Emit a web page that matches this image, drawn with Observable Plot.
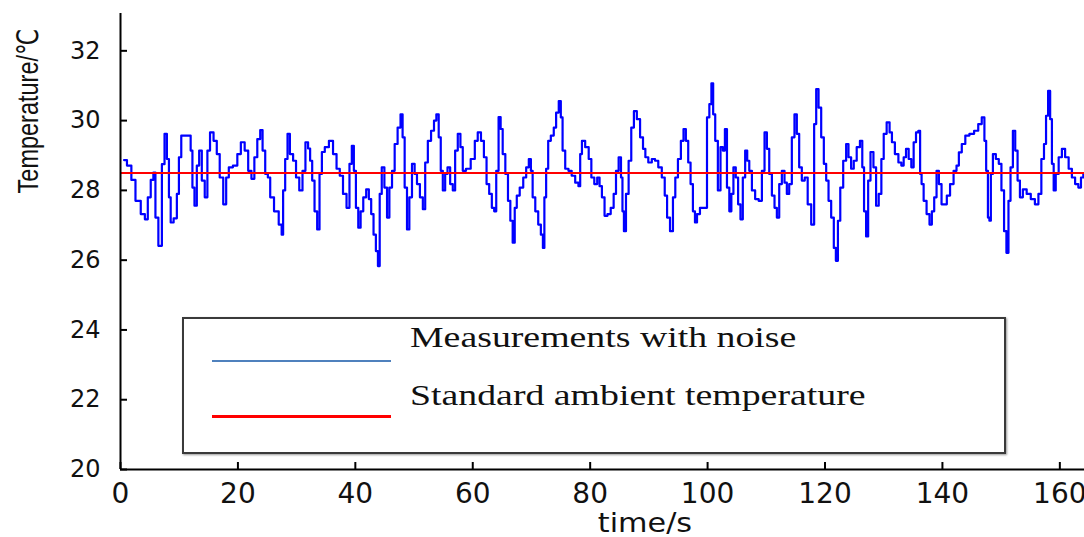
<!DOCTYPE html>
<html><head><meta charset="utf-8">
<script src="https://cdn.jsdelivr.net/npm/d3@7"></script>
<script src="https://cdn.jsdelivr.net/npm/@observablehq/plot@0.6"></script>
<style>
body{margin:0;background:#fff;}
#wrap{position:relative;width:1084px;height:537px;overflow:hidden;background:#fff;}
#wrap svg{position:absolute;left:0;top:0;}
.ytitle{position:absolute;left:29px;top:111px;transform:translate(-50%,-50%) rotate(-90deg) scale(1,1.26);white-space:nowrap;font-family:"Liberation Sans","DejaVu Sans",sans-serif;font-size:23.5px;line-height:1;color:#111;}
.xtitle{position:absolute;left:645px;top:509px;transform:translateX(-50%) scaleX(1.12);white-space:nowrap;font-family:"DejaVu Sans",sans-serif;font-size:27px;line-height:1;color:#111;}
.legend{position:absolute;left:182px;top:317px;width:820px;height:133px;border:2px solid #3a3a3a;box-shadow:1px 1px 2px #999;background:#fff;}
.lline{position:absolute;left:212px;width:179px;}
.ltext{position:absolute;left:410px;font-family:"Liberation Serif","Times New Roman",serif;font-size:30px;line-height:1;color:#111;white-space:nowrap;transform-origin:0 50%;transform:scaleX(1.26);}
</style></head><body><div id="wrap"></div>
<script>
const times = [
0.6,1.6,2.1,3.0,3.9,4.4,4.9,5.4,5.8,6.1,
6.8,7.3,7.7,8.1,8.4,8.7,9.4,9.8,10.1,10.6,
11.8,12.1,12.4,12.8,13.2,13.6,14.1,14.6,15.0,15.5,
16.2,16.6,17.2,17.8,18.2,18.7,19.6,20.2,20.8,21.5,
22.0,22.6,23.0,23.6,24.0,24.4,24.9,25.3,25.7,26.6,
27.3,27.6,27.8,28.3,28.6,29.1,29.7,30.1,30.8,31.2,
31.8,32.1,32.5,32.8,33.3,33.7,34.1,34.5,35.1,35.9,
36.5,37.1,37.6,38.2,38.8,39.2,39.6,39.9,40.3,40.7,
41.1,41.6,42.1,42.5,42.9,43.3,43.7,44.0,44.3,44.7,
45.2,45.6,46.0,46.5,46.9,47.5,47.9,48.2,48.6,49.0,
49.4,49.9,50.3,50.7,51.3,51.7,52.1,52.6,53.2,53.6,
54.0,54.4,54.7,55.1,55.5,55.9,56.4,56.8,57.2,57.7,
58.1,58.5,59.2,60.1,60.6,61.1,61.7,62.1,62.6,63.0,
63.5,63.8,64.2,64.6,64.9,65.3,65.8,66.2,66.6,67.0,
67.3,67.7,68.3,68.9,69.3,69.8,70.0,70.4,70.9,71.4,
71.8,72.1,72.3,72.7,73.0,73.6,74.0,74.4,74.9,75.1,
75.5,76.0,76.6,77.1,77.8,78.2,78.4,78.8,79.5,80.0,
80.4,81.0,81.4,81.8,82.2,82.7,83.2,83.8,84.2,84.6,
85.1,85.4,85.6,85.9,86.3,86.8,87.2,87.7,88.2,88.8,
89.2,89.6,90.2,90.8,91.3,91.9,92.5,92.9,93.3,93.9,
94.3,94.7,95.2,95.7,96.1,96.5,96.9,97.3,97.7,98.0,
98.4,99.0,99.7,100.1,100.5,100.8,101.1,101.5,102.0,102.4,
102.8,103.1,103.5,103.9,104.2,104.6,105.0,105.4,105.8,106.2,
106.6,106.9,107.3,107.8,108.4,109.0,109.5,109.9,110.3,110.7,
111.2,111.6,112.0,112.4,112.9,113.3,113.7,114.1,114.6,115.0,
115.4,115.8,116.3,116.8,117.3,118.0,118.3,118.7,119.1,119.6,
120.0,120.4,120.8,121.3,121.7,122.0,122.4,122.8,123.4,123.8,
124.2,124.7,125.1,125.7,126.2,126.5,126.8,127.2,127.5,128.0,
128.5,128.9,129.4,129.8,130.2,130.8,131.2,131.6,132.2,132.8,
133.2,133.6,134.0,134.5,134.9,135.3,135.7,136.1,136.3,136.6,
137.0,137.6,138.0,138.4,138.8,139.2,139.6,140.1,140.5,141.0,
141.6,142.2,142.6,143.0,143.6,144.2,145.0,145.8,146.4,147.0,
147.3,147.6,147.9,148.1,148.4,148.8,149.4,149.8,150.3,150.7,
151.1,151.4,151.8,152.2,152.6,153.0,153.4,154.0,154.7,155.4,
156.1,156.6,157.1,157.5,157.8,158.2,158.5,158.8,159.1,159.5,
160.1,160.6,161.2,161.8,162.3,162.9,163.4,163.8,164.2
];
const temps = [
28.87,28.71,28.3,27.7,27.32,27.17,27.8,28.3,28.51,27.22,
26.41,28.75,29.62,28.9,27.8,27.08,27.2,27.9,28.95,29.57,
29.57,29.14,28.08,27.56,28.71,29.14,28.28,27.8,29.14,29.66,
29.42,29.04,28.37,27.6,28.37,28.66,28.71,29.04,29.38,29.14,
28.56,28.33,28.95,29.47,29.73,29.14,28.47,28.37,27.8,27.4,
27.02,26.73,28.0,28.9,29.62,29.04,28.85,28.37,28.0,28.56,
29.38,29.2,28.85,28.28,27.4,26.88,28.47,29.1,29.24,29.42,
29.04,28.62,28.42,27.9,27.5,28.76,29.28,28.56,27.5,26.93,
27.4,27.8,28.03,27.75,27.32,26.73,26.26,25.83,27.9,28.66,
28.08,27.22,28.08,28.56,29.33,29.8,30.18,29.52,28.08,26.88,
27.8,28.76,28.47,28.18,27.8,27.46,28.8,29.42,29.71,30.0,
30.18,29.52,28.56,28.0,28.47,28.66,28.18,28.0,29.14,29.62,
29.24,28.56,28.62,28.9,29.42,29.66,29.42,28.95,28.18,27.9,
27.5,27.4,28.56,30.1,29.76,29.04,28.47,27.7,27.13,26.5,
27.5,27.85,28.08,28.37,28.66,28.9,28.56,27.8,27.4,27.02,
26.73,26.35,27.8,28.62,29.42,29.57,29.8,30.23,30.56,30.09,
29.14,28.62,28.56,28.42,28.22,28.12,29.04,29.42,29.24,28.9,
28.37,28.18,28.37,28.12,27.8,27.27,27.32,27.5,27.9,28.56,
28.95,28.37,27.4,26.83,27.9,28.85,29.8,30.27,30.04,29.52,
29.19,28.95,28.8,28.9,28.85,28.66,28.37,27.85,27.22,26.83,
27.8,28.37,28.9,29.42,29.76,29.42,28.8,28.18,27.4,27.08,
27.32,27.5,27.5,30.09,30.47,31.07,30.18,29.42,28.0,29.24,
29.14,29.76,28.08,27.4,27.9,28.66,28.37,27.6,27.17,28.37,
29.14,28.85,28.56,28.0,27.75,27.7,28.56,29.66,29.19,28.47,
27.85,27.5,27.22,28.18,28.56,28.22,27.9,28.18,29.52,30.18,
29.62,28.66,28.28,28.37,27.6,27.02,29.9,30.9,30.37,29.52,
28.76,28.28,27.7,27.22,26.35,25.98,27.13,28.08,28.85,29.33,
28.95,28.62,28.85,29.24,29.42,28.66,27.4,26.68,28.28,29.1,
28.66,27.56,27.9,28.9,29.62,29.95,29.66,29.38,29.04,28.8,
28.71,28.95,29.19,28.9,28.66,29.38,29.66,29.71,28.47,28.18,
27.7,27.32,27.02,27.4,27.8,28.56,28.18,27.6,27.6,27.85,
28.18,28.56,28.71,29.09,29.33,29.57,29.62,29.71,29.9,30.09,
29.42,28.56,27.22,27.13,28.47,29.04,28.9,28.76,28.0,26.83,
26.21,27.7,28.66,29.71,29.14,28.28,27.8,28.03,27.9,27.75,
27.6,27.9,28.9,29.33,30.14,30.85,30.04,28.76,28.0,28.47,
28.95,29.19,28.95,28.62,28.37,28.18,28.08,28.37,28.47
];
const standardTemp = 28.5;
const xTicks = [0,20,40,60,80,100,120,140,160];
const yTicks = [20,22,24,26,28,30,32];
const xDomain = [0,164.2];
const yDomain = [20,33.07];
const xTitle = "time/s";
const yTitle = "Temperature/\u2103";
const seriesNames = ["Measurements with noise","Standard ambient temperature"];
const seriesColors = ["#0000ff","#ff0000"];
const legendColors = ["#4f81bd","#ff0000"];

const measurements = times.map((t,i)=>({t, v: temps[i]}));
const W=1084,H=537,mL=120,mR=0,mT=13,mB=68;
const tickLen = 7;

const chart = Plot.plot({
  width:W,height:H,marginLeft:mL,marginRight:mR,marginTop:mT,marginBottom:mB,
  x:{domain:xDomain},
  y:{domain:yDomain},
  style:{background:"transparent",fontFamily:"DejaVu Sans, sans-serif",color:"#111"},
  marks:[
    Plot.line(measurements,{x:"t",y:"v",stroke:seriesColors[0],strokeWidth:2.2,curve:"step",clip:true}),
    Plot.ruleY([standardTemp],{stroke:seriesColors[1],strokeWidth:2}),
    Plot.tickX(xTicks,{x:d=>d,stroke:"#000",strokeWidth:2,insetTop:H-mT-mB-tickLen}),
    Plot.tickY(yTicks,{y:d=>d,stroke:"#000",strokeWidth:2,insetRight:W-mL-mR-tickLen}),
    Plot.ruleX([xDomain[0]],{stroke:"#000",strokeWidth:2}),
    Plot.ruleY([yDomain[0]],{stroke:"#000",strokeWidth:2}),
    Plot.axisX(xTicks,{tickSize:0,tickPadding:14,fontSize:28,label:null}),
    Plot.axisY(yTicks,{tickSize:0,tickPadding:20,fontSize:24,label:null})
  ]
});
const wrap = document.getElementById("wrap");
wrap.appendChild(chart);

const yt = document.createElement("div"); yt.className="ytitle"; yt.textContent=yTitle; wrap.appendChild(yt);
const xt = document.createElement("div"); xt.className="xtitle"; xt.textContent=xTitle; wrap.appendChild(xt);
const lg = document.createElement("div"); lg.className="legend"; wrap.appendChild(lg);
const lineTops = [360,415], lineW=[2,3], textTops=[322,380];
seriesNames.forEach((name,i)=>{
  const l = document.createElement("div"); l.className="lline";
  l.style.top = lineTops[i]+"px"; l.style.height=lineW[i]+"px"; l.style.background=legendColors[i];
  wrap.appendChild(l);
  const t = document.createElement("div"); t.className="ltext";
  t.style.top = textTops[i]+"px"; t.textContent = name; wrap.appendChild(t);
});
</script></body></html>
